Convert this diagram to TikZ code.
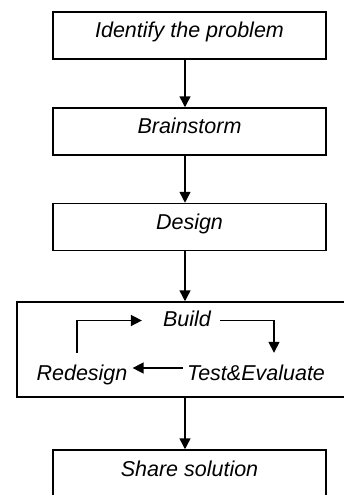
\documentclass[tikz,border=0pt]{standalone}
\usepackage{fontspec}
\setmainfont{Liberation Sans}
\usetikzlibrary{arrows.meta}
\begin{document}
\begin{tikzpicture}[x=1pt,y=-1pt,
    every node/.style={font=\fontsize{21.5}{26}\selectfont\itshape},
    stage/.style={draw,line width=1.5pt,minimum width=273pt,minimum height=47pt,inner sep=0pt,text height=12pt,text depth=8pt},
    looptext/.style={inner sep=0pt,anchor=base,text height=15.5pt,text depth=4.5pt},
    flow/.style={-{Triangle[width=11pt,length=11pt]},line width=1.5pt}]
        \clip (0,0) rectangle (344,495);
        \useasboundingbox (0,0) rectangle (344,495);
        \coordinate (axis) at (185,0);
        \node[stage] (identify) at (189.5,35.5) {Identify the problem};
        \node[stage] (brainstorm) at (189.5,131.5) {Brainstorm};
        \node[stage] (design) at (189.5,227) {Design};
        \node[stage,minimum width=343pt,minimum height=95pt] (cycle) at (188.5,349.5) {};
        \node[looptext] (build) at (187,326) {Build};
        \node[looptext] (redesign) at (82,380) {Redesign};
        \node[looptext] (test) at (256,380) {Test\&Evaluate};
        \node[stage,minimum height=48pt] (share) at (189.5,474) {Share solution};
        \draw[flow] (identify.south -| axis) -- (brainstorm.north -| axis);
        \draw[flow] (brainstorm.south -| axis) -- (design.north -| axis);
        \draw[flow] (design.south -| axis) -- (cycle.north -| axis);
        \draw[flow] (cycle.south -| axis) -- (share.north -| axis);
        \draw[flow] ([xshift=-5pt,yshift=11.5pt]redesign.north) |- ([xshift=-21pt]build.west);
        \draw[flow] ([xshift=9pt]build.east) -| ([xshift=18pt,yshift=11.5pt]test.north);
        \draw[flow] ([xshift=-4pt,yshift=6.5pt]test.west) -- ([xshift=5pt,yshift=6.5pt]redesign.east);
    \end{tikzpicture}
\end{document}
